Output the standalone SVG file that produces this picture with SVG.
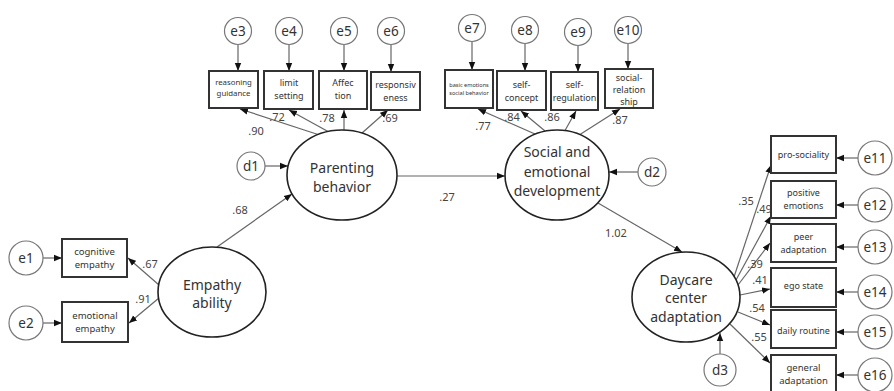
<svg xmlns="http://www.w3.org/2000/svg" width="894" height="391" viewBox="0 0 894 391">
<defs>
<marker id="ah" viewBox="0 0 10 10" refX="10" refY="5" markerWidth="8" markerHeight="8" markerUnits="userSpaceOnUse" orient="auto"><path d="M0,1 L10,5 L0,9 z" fill="#111"/></marker>
<style>
text{font-family:"Noto Sans","Open Sans",sans-serif;fill:#333;text-anchor:middle}
.lat{fill:#fff;stroke:#222;stroke-width:1.6}
.err{fill:#fff;stroke:#777;stroke-width:1.2}
.box{fill:#fff;stroke:#333;stroke-width:2}
.lt{font-size:14px}
.et{font-size:13.5px}
.bt{font-size:9px}
.bs{font-size:7.8px}
.bx{font-size:5.6px}
.bl{font-size:9.5px}
.ld{font-size:11px;fill:#444}
.c line{stroke:#666;stroke-width:1.2;marker-end:url(#ah)}
</style>
</defs>
<rect width="894" height="391" fill="#fff"/>
<g class="c" id="connectors">
<line x1="238" y1="45" x2="238" y2="71"/>
<line x1="289" y1="45" x2="289" y2="71"/>
<line x1="344" y1="45" x2="344" y2="71"/>
<line x1="391" y1="45" x2="391" y2="72"/>
<line x1="472" y1="42" x2="472" y2="70"/>
<line x1="525" y1="44" x2="525" y2="71"/>
<line x1="578" y1="46" x2="578" y2="72"/>
<line x1="628" y1="44" x2="628" y2="69"/>
<line x1="318" y1="134.5" x2="240" y2="109"/>
<line x1="328" y1="131.5" x2="289" y2="110"/>
<line x1="344" y1="130" x2="344" y2="110"/>
<line x1="362" y1="133" x2="388" y2="110"/>
<line x1="535" y1="134" x2="478" y2="109"/>
<line x1="545" y1="131" x2="521" y2="111"/>
<line x1="565" y1="130.5" x2="576" y2="111"/>
<line x1="580" y1="134.6" x2="620" y2="109"/>
<line x1="265" y1="166" x2="288" y2="166"/>
<line x1="397" y1="176" x2="505" y2="176"/>
<line x1="638" y1="172" x2="609" y2="172"/>
<line x1="217" y1="247" x2="292" y2="194"/>
<line x1="159" y1="285" x2="128" y2="258"/>
<line x1="159" y1="298" x2="129" y2="323"/>
<line x1="43" y1="258" x2="62" y2="258"/>
<line x1="43" y1="323" x2="62" y2="323"/>
<line x1="598" y1="203" x2="682" y2="252"/>
<line x1="720" y1="354" x2="720" y2="333"/>
<line x1="734" y1="277" x2="771" y2="165"/>
<line x1="736" y1="280" x2="771" y2="216"/>
<line x1="738" y1="285" x2="770" y2="243"/>
<line x1="740" y1="295" x2="770" y2="289"/>
<line x1="738" y1="312" x2="770" y2="325"/>
<line x1="730" y1="324" x2="770" y2="363"/>
<line x1="858" y1="158" x2="836" y2="158"/>
<line x1="858" y1="205" x2="836" y2="205"/>
<line x1="858" y1="247" x2="836" y2="247"/>
<line x1="858" y1="292" x2="836" y2="292"/>
<line x1="858" y1="332" x2="836" y2="332"/>
<line x1="858" y1="375" x2="836" y2="375"/>
</g>
<g id="labels">
<text class="ld" x="256" y="135">.90</text>
<text class="ld" x="277" y="121">.72</text>
<text class="ld" x="327" y="122">.78</text>
<text class="ld" x="390" y="122">.69</text>
<text class="ld" x="483" y="130">.77</text>
<text class="ld" x="512" y="121">.84</text>
<text class="ld" x="552" y="121">.86</text>
<text class="ld" x="620" y="124">.87</text>
<text class="ld" x="447" y="201">.27</text>
<text class="ld" x="240" y="214">.68</text>
<text class="ld" x="150" y="268">.67</text>
<text class="ld" x="143" y="303">.91</text>
<text class="ld" x="616" y="237">1.02</text>
<text class="ld" x="746" y="205">.35</text>
<text class="ld" x="764" y="213">.49</text>
<text class="ld" x="755" y="268">.39</text>
<text class="ld" x="760" y="284">.41</text>
<text class="ld" x="757" y="312">.54</text>
<text class="ld" x="759" y="341">.55</text>
</g>
<g id="e3"><circle class="err" cx="238" cy="31" r="13.5"/><text class="et" x="238" y="36">e3</text></g>
<g id="e4"><circle class="err" cx="289" cy="31" r="13.5"/><text class="et" x="289" y="36">e4</text></g>
<g id="e5"><circle class="err" cx="344" cy="31" r="13.5"/><text class="et" x="344" y="36">e5</text></g>
<g id="e6"><circle class="err" cx="391" cy="31" r="13.5"/><text class="et" x="391" y="36">e6</text></g>
<g id="e7"><circle class="err" cx="472" cy="28" r="13.5"/><text class="et" x="472" y="33">e7</text></g>
<g id="e8"><circle class="err" cx="525" cy="30" r="13.5"/><text class="et" x="525" y="35">e8</text></g>
<g id="e9"><circle class="err" cx="578" cy="32" r="13.5"/><text class="et" x="578" y="37">e9</text></g>
<g id="e10"><circle class="err" cx="628" cy="30" r="13.5"/><text class="et" x="628" y="35">e10</text></g>
<g id="reasoning"><rect class="box" x="209" y="71" width="49" height="37"/><text class="bs" x="233.5" y="85">reasoning</text><text class="bs" x="233.5" y="96">guidance</text></g>
<g id="limit"><rect class="box" x="264" y="71" width="49" height="38"/><text class="bt" x="289" y="86">limit</text><text class="bt" x="289" y="99">setting</text></g>
<g id="affection"><rect class="box" x="319" y="71" width="48" height="38"/><text class="bt" x="343" y="86">Affec</text><text class="bt" x="343" y="99">tion</text></g>
<g id="responsiveness"><rect class="box" x="371" y="72" width="49" height="38"/><text class="bt" x="395.5" y="88">responsiv</text><text class="bt" x="395.5" y="101">eness</text></g>
<g id="basic"><rect class="box" x="445" y="70" width="48" height="38"/><text class="bx" x="469" y="87">basic emotions</text><text class="bx" x="469" y="95">social behavior</text></g>
<g id="selfconcept"><rect class="box" x="497" y="71" width="49" height="39"/><text class="bt" x="521.5" y="88">self-</text><text class="bt" x="521.5" y="101">concept</text></g>
<g id="selfregulation"><rect class="box" x="551" y="72" width="47" height="38"/><text class="bt" x="574.5" y="88">self-</text><text class="bt" x="574.5" y="101">regulation</text></g>
<g id="socialrelation"><rect class="box" x="605" y="69" width="48" height="39"/><text class="bt" x="629" y="81">social-</text><text class="bt" x="629" y="93">relation</text><text class="bt" x="629" y="105">ship</text></g>
<g id="d1"><circle class="err" cx="251" cy="166" r="14"/><text class="et" x="251" y="171">d1</text></g>
<g id="parenting"><ellipse class="lat" cx="342" cy="175" rx="55" ry="45"/><text class="lt" x="342" y="173">Parenting</text><text class="lt" x="342" y="192">behavior</text></g>
<g id="social"><ellipse class="lat" cx="557" cy="175" rx="52" ry="45"/><text class="lt" x="557" y="157">Social and</text><text class="lt" x="557" y="177">emotional</text><text class="lt" x="557" y="196">development</text></g>
<g id="d2"><circle class="err" cx="652" cy="172" r="14"/><text class="et" x="652" y="177">d2</text></g>
<g id="empathy"><ellipse class="lat" cx="212" cy="292" rx="54" ry="45"/><text class="lt" x="212" y="290">Empathy</text><text class="lt" x="212" y="308">ability</text></g>
<g id="e1"><circle class="err" cx="26" cy="258" r="17"/><text class="et" x="26" y="263">e1</text></g>
<g id="e2"><circle class="err" cx="26" cy="323" r="17"/><text class="et" x="26" y="328">e2</text></g>
<g id="cognitive"><rect class="box" x="62" y="239" width="65" height="38"/><text class="bl" x="94.5" y="255">cognitive</text><text class="bl" x="94.5" y="268">empathy</text></g>
<g id="emotional"><rect class="box" x="62" y="302" width="66" height="40"/><text class="bl" x="95" y="319">emotional</text><text class="bl" x="95" y="332">empathy</text></g>
<g id="daycare"><ellipse class="lat" cx="686" cy="297" rx="54" ry="45"/><text class="lt" x="686" y="285">Daycare</text><text class="lt" x="686" y="303">center</text><text class="lt" x="686" y="322">adaptation</text></g>
<g id="d3"><circle class="err" cx="720" cy="370" r="16"/><text class="et" x="720" y="375">d3</text></g>
<g id="prosociality"><rect class="box" x="771" y="136" width="65" height="37"/><text class="bt" x="803.5" y="158">pro-sociality</text></g>
<g id="positive"><rect class="box" x="771" y="181" width="65" height="37"/><text class="bt" x="803.5" y="196">positive</text><text class="bt" x="803.5" y="209">emotions</text></g>
<g id="peer"><rect class="box" x="771" y="224" width="65" height="38"/><text class="bt" x="803.5" y="240">peer</text><text class="bt" x="803.5" y="253">adaptation</text></g>
<g id="ego"><rect class="box" x="771" y="268" width="65" height="39"/><text class="bt" x="803.5" y="289">ego state</text></g>
<g id="daily"><rect class="box" x="771" y="310" width="65" height="38"/><text class="bt" x="803.5" y="334">daily routine</text></g>
<g id="general"><rect class="box" x="771" y="355" width="65" height="38"/><text class="bl" x="803.5" y="371">general</text><text class="bl" x="803.5" y="384">adaptation</text></g>
<g id="e11"><circle class="err" cx="875" cy="158" r="17"/><text class="et" x="875" y="163">e11</text></g>
<g id="e12"><circle class="err" cx="875" cy="205" r="17"/><text class="et" x="875" y="210">e12</text></g>
<g id="e13"><circle class="err" cx="875" cy="247" r="17"/><text class="et" x="875" y="252">e13</text></g>
<g id="e14"><circle class="err" cx="875" cy="292" r="17"/><text class="et" x="875" y="297">e14</text></g>
<g id="e15"><circle class="err" cx="875" cy="332" r="17"/><text class="et" x="875" y="337">e15</text></g>
<g id="e16"><circle class="err" cx="875" cy="375" r="17"/><text class="et" x="875" y="380">e16</text></g>
</svg>
